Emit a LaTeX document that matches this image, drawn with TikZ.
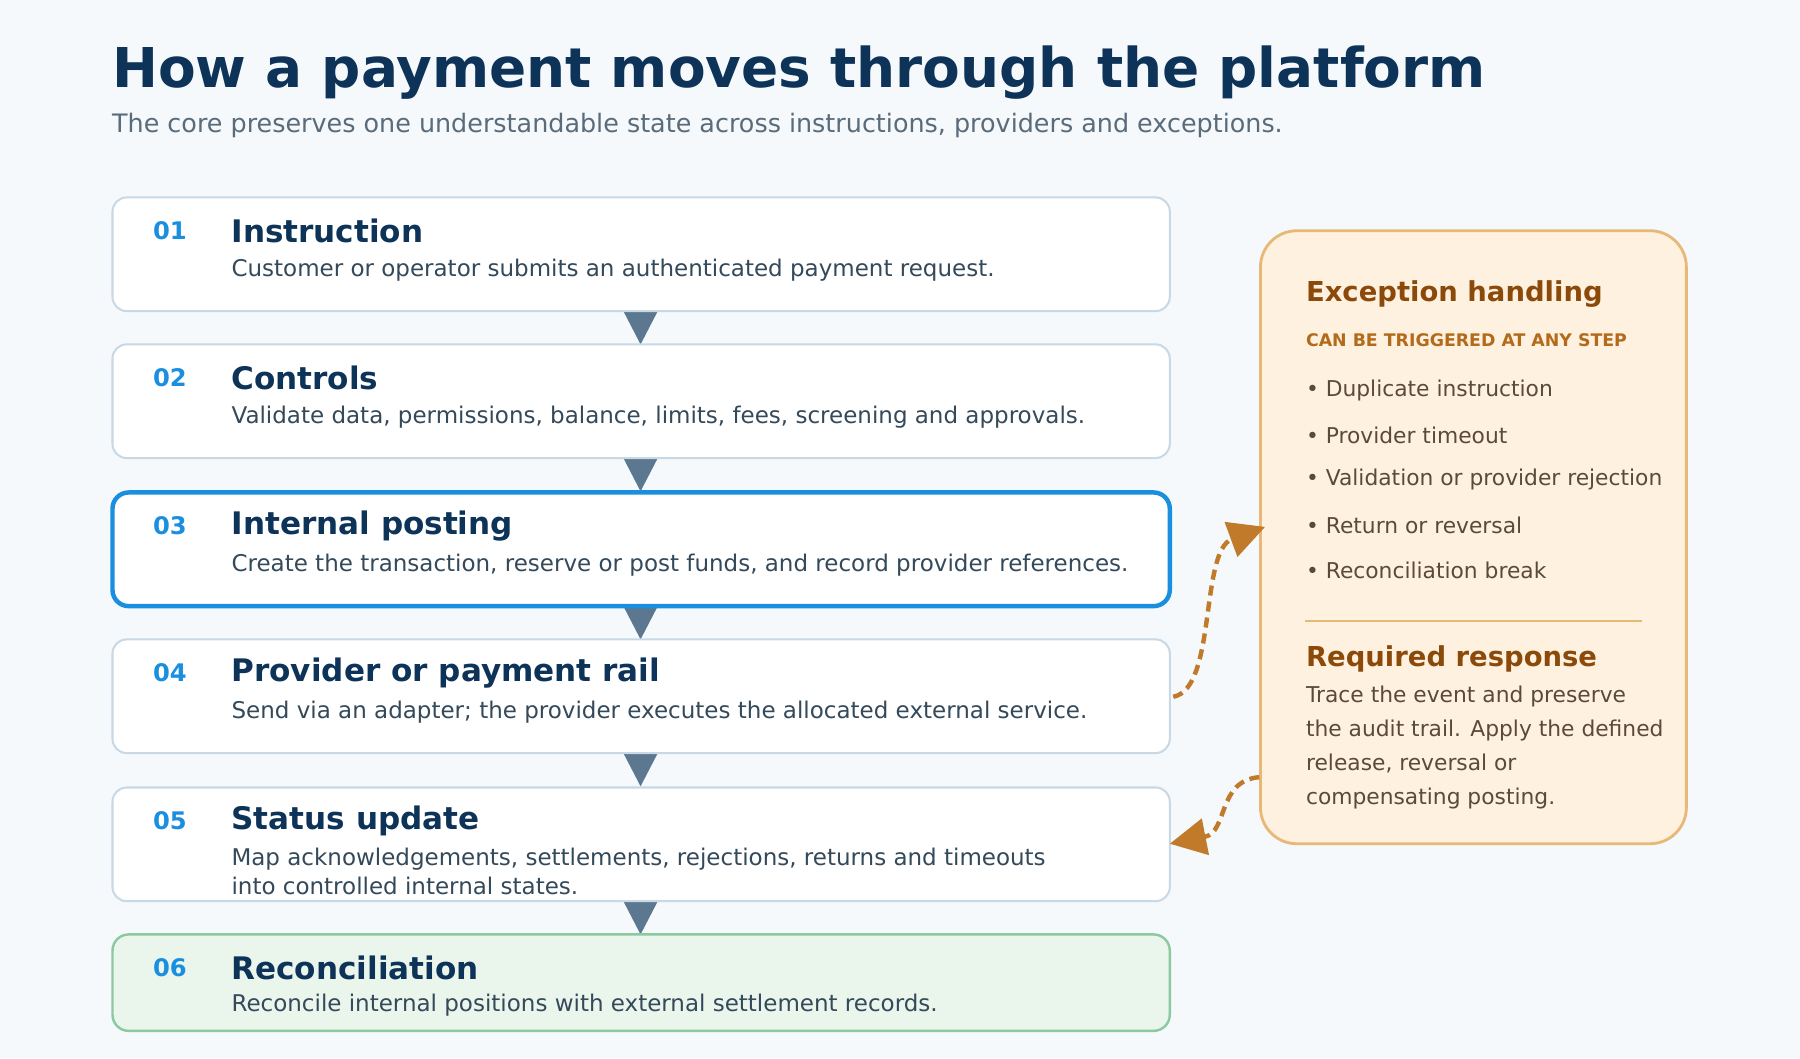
\documentclass[tikz,border=0pt]{standalone}
\usepackage{fontspec}
\setmainfont{DejaVu Sans}
\usetikzlibrary{calc,arrows.meta,positioning}

\definecolor{pagebg}{HTML}{F5F9FC}
\definecolor{navy}{HTML}{0D3358}
\definecolor{subgray}{HTML}{5A6B7A}
\definecolor{numblue}{HTML}{1A8FE0}
\definecolor{stepline}{HTML}{C8D8E4}
\definecolor{desctext}{HTML}{34495A}
\definecolor{tri}{HTML}{5B7890}
\definecolor{okfill}{HTML}{EAF5EC}
\definecolor{okline}{HTML}{8CC8A0}
\definecolor{excfill}{HTML}{FFF1E0}
\definecolor{excline}{HTML}{E8B877}
\definecolor{exchead}{HTML}{8B4A0A}
\definecolor{excsub}{HTML}{B36A1A}
\definecolor{exctext}{HTML}{5A4A3A}
\definecolor{excarrow}{HTML}{C07A2A}

\tikzset{
  stepcard/.style={draw=stepline, line width=0.5pt, fill=white, rounded corners=3.5pt},
  stepnum/.style={anchor=center, text=numblue, font=\bfseries\fontsize{6}{7}\selectfont},
  steptitle/.style={anchor=west, text=navy, font=\bfseries\fontsize{7.7}{9}\selectfont, inner sep=0pt},
  stepdesc/.style={anchor=west, text=desctext, font=\fontsize{5.7}{7.2}\selectfont, inner sep=0pt, align=left},
  flowtri/.style={fill=tri, draw=none},
  exctxt/.style={anchor=west, text=exctext, font=\fontsize{5.4}{8.4}\selectfont, inner sep=0pt, align=left},
  excflow/.style={excarrow, line width=1.1pt, dash pattern=on 2.5pt off 1.5pt,
    -{Triangle[length=9pt,width=9pt]}},
}

% y-top height number title description
\newcommand\stepbox[5]{%
  \draw[stepcard] (0.98,-#1) rectangle ++(9.21,-#2);
  \node[stepnum] (n#3) at (1.48,-#1-0.29) {#3};
  \node[steptitle] (t#3) at (2.01,-#1-0.29) {#4};
  \node[stepdesc] (d#3) at (2.01,-#1-0.63) {#5};
}

\begin{document}
\begin{tikzpicture}[x=1cm,y=1cm]
  \fill[pagebg] (0,0) rectangle (15.68,-9.22);
  \useasboundingbox (0,0) rectangle (15.68,-9.22);

  \node[anchor=west, inner sep=0pt, text=navy, font=\bfseries\fontsize{13.6}{16}\selectfont] (head) at (0.97,-0.63)
    {How a payment moves through the platform};
  \node[anchor=west, inner sep=0pt, text=subgray, font=\fontsize{6.3}{8}\selectfont] (sub) at (0.97,-1.09)
    {The core preserves one understandable state across instructions, providers and exceptions.};

  % triangles between the steps
  \foreach \yt in {2.71,3.99,5.28,6.56,7.85}
    \fill[flowtri] (5.43,-\yt) -- (5.73,-\yt) -- (5.58,-\yt-0.29) -- cycle;

  \stepbox{1.72}{0.99}{01}{Instruction}{Customer or operator submits an authenticated payment request.}
  \stepbox{3.00}{0.99}{02}{Controls}{Validate data, permissions, balance, limits, fees, screening and approvals.}
  \stepbox{4.29}{0.99}{03}{Internal posting}{Create the transaction, reserve or post funds, and record provider references.}
  \draw[numblue, line width=1.1pt, rounded corners=4pt] (0.98,-4.29) rectangle (10.19,-5.28);
  \stepbox{5.57}{0.99}{04}{Provider or payment rail}{Send via an adapter; the provider executes the allocated external service.}
  \stepbox{6.86}{0.99}{05}{Status update}{}
  \node[stepdesc] (d05b) at (2.01,-7.59) {Map acknowledgements, settlements, rejections, returns and timeouts\\into controlled internal states.};
  \draw[okline, fill=okfill, line width=0.6pt, rounded corners=4pt] (0.98,-8.14) rectangle (10.19,-8.98);
  \node[stepnum] (n06) at (1.48,-8.43) {06};
  \node[steptitle] (t06) at (2.01,-8.43) {Reconciliation};
  \node[stepdesc] (d06) at (2.01,-8.76) {Reconcile internal positions with external settlement records.};

  % exception panel
  \draw[excline, fill=excfill, line width=0.7pt, rounded corners=9pt] (10.98,-2.01) rectangle (14.69,-7.35);
  \node[anchor=west, inner sep=0pt, text=exchead, font=\bfseries\fontsize{6.8}{8}\selectfont] (exc) at (11.37,-2.56) {Exception handling};
  \node[anchor=west, inner sep=0pt, text=excsub, font=\bfseries\fontsize{4.3}{5}\selectfont] (exs) at (11.37,-2.96) {CAN BE TRIGGERED AT ANY STEP};
  \node[exctxt] (b1) at (11.37,-3.40) {• Duplicate instruction};
  \node[exctxt] (b2) at (11.37,-3.79) {• Provider timeout};
  \node[exctxt] (b3) at (11.37,-4.18) {• Validation or provider rejection};
  \node[exctxt] (b4) at (11.37,-4.58) {• Return or reversal};
  \node[exctxt] (b5) at (11.37,-4.97) {• Reconciliation break};
  \draw[excline, line width=0.6pt] (11.37,-5.41) -- (14.30,-5.41);
  \node[anchor=west, inner sep=0pt, text=exchead, font=\bfseries\fontsize{6.8}{8}\selectfont] (req) at (11.37,-5.74) {Required response};
  \node[exctxt, anchor=north west] (reqt) at (11.37,-5.97)
    {Trace the event and preserve\\the audit trail. Apply the defined\\release, reversal or\\compensating posting.};

  \coordinate (s4) at (10.22,-6.07);
  \coordinate (ein) at (11.02,-4.59);
  \coordinate (eout) at (10.97,-6.77);
  \coordinate (s5) at (10.19,-7.35);
  \draw[excflow] (s4) .. controls (10.6,-6.0) and (10.45,-4.8) .. (ein);
  \draw[excflow] (eout) .. controls (10.6,-6.8) and (10.7,-7.25) .. (s5);
\end{tikzpicture}
\end{document}
